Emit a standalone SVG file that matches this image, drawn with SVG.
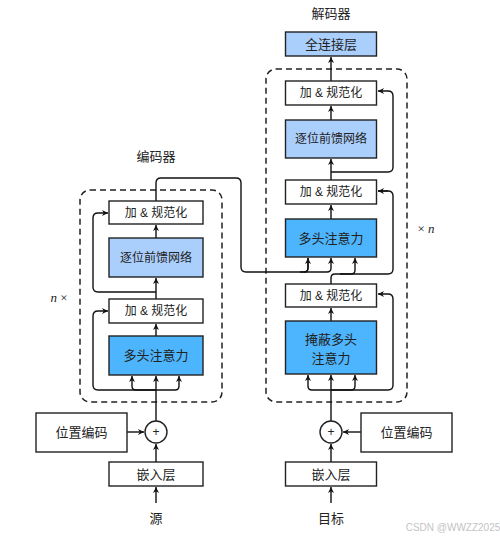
<svg xmlns="http://www.w3.org/2000/svg" width="500" height="539" viewBox="0 0 500 539">
<defs>
<marker id="ah" viewBox="0 0 10 10" refX="10" refY="5" markerWidth="6" markerHeight="6" orient="auto" markerUnits="userSpaceOnUse">
<path d="M0,0 L10,5 L0,10 L3,5 z" fill="#111"/>
</marker>
<style>
.box{stroke:#222;stroke-width:1.4}
.w{fill:#fff}
.ffn{fill:#abcffd}
.mha{fill:#4db5fd}
.t{font-family:"Liberation Sans","Noto Sans CJK SC",sans-serif;font-size:12px;fill:#222;text-anchor:middle;dominant-baseline:central}
.t13{font-size:13px}
.dash{fill:none;stroke:#222;stroke-width:1.5;stroke-dasharray:6,4}
.ln{fill:none;stroke:#111;stroke-width:1.4}
.ar{marker-end:url(#ah)}
</style>
</defs>
<rect width="500" height="539" fill="#fff"/>

<text class="t t13" x="156" y="156">编码器</text>
<text class="t t13" x="331" y="13">解码器</text>

<rect class="dash" x="80" y="190" width="142" height="212" rx="10"/>
<rect class="dash" x="266" y="69" width="141" height="333" rx="10"/>

<text x="59" y="297" style="font-family:'Liberation Serif',serif;font-size:13px;fill:#222;text-anchor:middle;dominant-baseline:central"><tspan font-style="italic">n</tspan> ×</text>
<text x="426" y="228" style="font-family:'Liberation Serif',serif;font-size:13px;fill:#222;text-anchor:middle;dominant-baseline:central">× <tspan font-style="italic">n</tspan></text>

<g id="connectors">
<!-- encoder -->
<path class="ln ar" d="M156,503 V487"/>
<path class="ln ar" d="M156,462 V444"/>
<path class="ln ar" d="M127,432 H144"/>
<path class="ln ar" d="M156,421 V376"/>
<path class="ln ar" d="M156,390 H136 Q132,390 132,386 V376"/>
<path class="ln ar" d="M156,390 H175 Q179,390 179,386 V376"/>
<path class="ln ar" d="M156,390 H98 Q93,390 93,385 V316 Q93,311 98,311 H108"/>
<path class="ln ar" d="M156,336 V324"/>
<path class="ln ar" d="M156,299 V278"/>
<path class="ln ar" d="M156,292 H98 Q93,292 93,287 V218 Q93,213 98,213 H108"/>
<path class="ln ar" d="M156,238 V225"/>
<path class="ln" d="M156,201 V183 Q156,178 161,178 H236 Q241,178 241,183 V267 Q241,272 246,272 H304 Q308,272 308,268 V258"/>
<path class="ln ar" d="M304,272 Q308,272 308,268 V258"/>
<path class="ln ar" d="M300,272 H327 Q331,272 331,268 V258"/>
<!-- decoder -->
<path class="ln ar" d="M331,503 V487"/>
<path class="ln ar" d="M331,462 V444"/>
<path class="ln ar" d="M361,432 H343"/>
<path class="ln ar" d="M331,421 V375"/>
<path class="ln ar" d="M331,390 H312 Q308,390 308,386 V375"/>
<path class="ln ar" d="M331,390 H351 Q355,390 355,386 V375"/>
<path class="ln ar" d="M331,390 H388 Q393,390 393,385 V299 Q393,294 388,294 H378"/>
<path class="ln ar" d="M331,321 V308"/>
<path class="ln" d="M331,284 V278 Q331,274 335,274 H388 Q393,274 393,269 V196 Q393,191 388,191 H378"/>
<path class="ln ar" d="M388,191 H378"/>
<path class="ln ar" d="M340,274 H351 Q355,274 355,270 V258"/>
<path class="ln ar" d="M331,219 V205"/>
<path class="ln ar" d="M331,180 V159"/>
<path class="ln ar" d="M331,172 H388 Q393,172 393,167 V96 Q393,91 388,91 H378"/>
<path class="ln ar" d="M331,120 V106"/>
<path class="ln ar" d="M331,81 V57"/>
</g>

<g id="enc-addnorm2"><rect class="box w" x="109" y="201" width="94" height="23"/><text class="t" x="156" y="212.5">加 &amp; 规范化</text></g>
<g id="enc-ffn"><rect class="box ffn" x="109" y="238" width="94" height="39"/><text class="t" x="156" y="257.5">逐位前馈网络</text></g>
<g id="enc-addnorm1"><rect class="box w" x="109" y="299" width="94" height="24"/><text class="t" x="156" y="311">加 &amp; 规范化</text></g>
<g id="enc-mha"><rect class="box mha" x="109" y="336" width="94" height="39"/><text class="t t13" x="156" y="355.5">多头注意力</text></g>
<g id="enc-pos"><rect class="box w" x="36" y="413" width="91" height="39"/><text class="t t13" x="81.5" y="432.5">位置编码</text></g>
<g id="enc-plus"><circle class="box w" cx="156" cy="432" r="11"/><text class="t" x="156" y="432" style="font-size:12px">+</text></g>
<g id="enc-embed"><rect class="box w" x="109" y="462" width="94" height="24"/><text class="t t13" x="156" y="474">嵌入层</text></g>
<g id="enc-src"><text class="t t13" x="156" y="518">源</text></g>

<g id="dec-fc"><rect class="box ffn" x="285.5" y="32" width="91" height="24"/><text class="t t13" x="331" y="44">全连接层</text></g>
<g id="dec-addnorm3"><rect class="box w" x="285.5" y="81" width="91" height="24"/><text class="t" x="331" y="93">加 &amp; 规范化</text></g>
<g id="dec-ffn"><rect class="box ffn" x="285.5" y="120" width="91" height="38"/><text class="t" x="331" y="139">逐位前馈网络</text></g>
<g id="dec-addnorm2"><rect class="box w" x="285.5" y="180" width="91" height="24"/><text class="t" x="331" y="192">加 &amp; 规范化</text></g>
<g id="dec-mha"><rect class="box mha" x="285.5" y="219" width="91" height="38"/><text class="t t13" x="331" y="238">多头注意力</text></g>
<g id="dec-addnorm1"><rect class="box w" x="285.5" y="284" width="91" height="23"/><text class="t" x="331" y="295.5">加 &amp; 规范化</text></g>
<g id="dec-mmha"><rect class="box mha" x="285.5" y="321" width="91" height="53"/><text class="t t13" x="331" y="339">掩蔽多头</text><text class="t t13" x="331" y="358">注意力</text></g>
<g id="dec-plus"><circle class="box w" cx="331" cy="432" r="11"/><text class="t" x="331" y="432">+</text></g>
<g id="dec-pos"><rect class="box w" x="361" y="413" width="91" height="39"/><text class="t t13" x="406.5" y="432.5">位置编码</text></g>
<g id="dec-embed"><rect class="box w" x="285.5" y="462" width="91" height="24"/><text class="t t13" x="331" y="474">嵌入层</text></g>
<g id="dec-tgt"><text class="t t13" x="331" y="518">目标</text></g>

<text x="453" y="527" style="font-family:'Liberation Sans',sans-serif;font-size:10px;fill:#c4c4c4;text-anchor:middle;dominant-baseline:central">CSDN @WWZZ2025</text>
</svg>
